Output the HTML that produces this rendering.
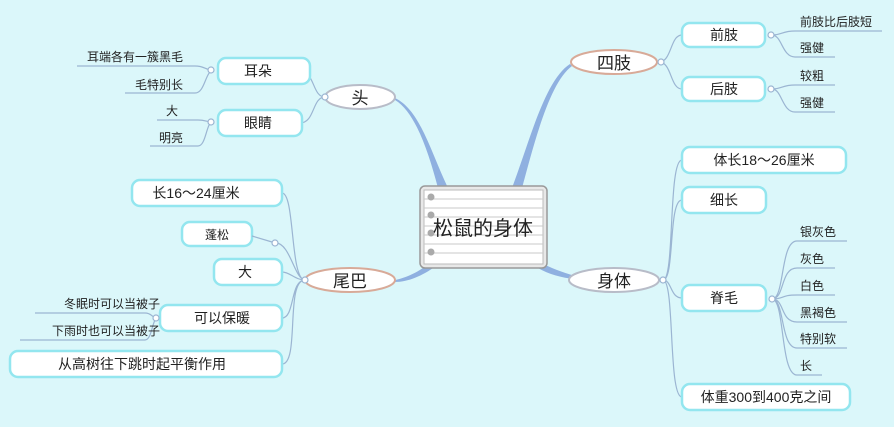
<!DOCTYPE html>
<html><head><meta charset="utf-8"><style>
html,body{margin:0;padding:0;background:#dbf7fa;}
svg{display:block;font-family:"Liberation Sans","Noto Sans CJK SC",sans-serif;}
.c{fill:#fff;stroke:#93e6ef;stroke-width:2.5;}
.l{fill:none;stroke:#9bb5d2;stroke-width:1.2;}
.t{font-size:14px;fill:#222;}
.m{font-size:17px;fill:#222;}
.s{font-size:12px;fill:#222;}
.j{fill:#fff;stroke:#9bb5d2;stroke-width:1.2;}
</style></head><body>
<svg width="894" height="427" viewBox="0 0 894 427">
<rect width="894" height="427" fill="#dbf7fa"/>
<g fill="#8fb0e0">
<path d="M395,98 C420,110 430,150 448,188 L438,188 C428,150 415,112 395,100Z"/>
<path d="M570,64 C545,80 530,140 512,188 L522,188 C535,140 550,82 572,66Z"/>
<path d="M395,280 C405,278 420,272 430,262 L436,266 C422,276 408,282 395,282Z"/>
<path d="M575,276 C562,272 550,268 540,262 L538,268 C548,274 562,278 575,279Z"/>
</g>
<rect x="420" y="186" width="127" height="82" rx="5" fill="#e8e8e8" stroke="#999" stroke-width="1.5"/>
<rect x="424" y="190" width="119" height="74" fill="#fff" stroke="#bbb"/>
<g stroke="#c9c9c9" stroke-width="1"><line x1="424" y1="199" x2="543" y2="199"/><line x1="424" y1="208" x2="543" y2="208"/><line x1="424" y1="217" x2="543" y2="217"/><line x1="424" y1="226" x2="543" y2="226"/><line x1="424" y1="235" x2="543" y2="235"/><line x1="424" y1="244" x2="543" y2="244"/><line x1="424" y1="253" x2="543" y2="253"/></g>
<g fill="#aaa"><circle cx="431" cy="197" r="3.5"/><circle cx="431" cy="215" r="3.5"/><circle cx="431" cy="233" r="3.5"/><circle cx="431" cy="252" r="3.5"/></g>
<text x="483" y="235" text-anchor="middle" font-size="20" fill="#222">松鼠的身体</text>
<ellipse cx="360" cy="97" rx="35" ry="12" fill="#fff" stroke="#b8bcc8" stroke-width="2"/>
<text x="360" y="104" text-anchor="middle" class="m">头</text>
<ellipse cx="614" cy="62" rx="43" ry="12" fill="#fff" stroke="#d8aa98" stroke-width="2"/>
<text x="614" y="69" text-anchor="middle" class="m">四肢</text>
<ellipse cx="350" cy="280" rx="45" ry="12" fill="#fff" stroke="#d8aa98" stroke-width="2"/>
<text x="350" y="287" text-anchor="middle" class="m">尾巴</text>
<ellipse cx="614" cy="280" rx="45" ry="12" fill="#fff" stroke="#b8bcc8" stroke-width="2"/>
<text x="614" y="287" text-anchor="middle" class="m">身体</text>
<path class="l" d="M325,97 C312,97 315,71 300,71 M325,97 C312,97 315,123 300,123"/>
<circle class="j" cx="325" cy="97" r="3"/>
<rect class="c" x="218" y="58" width="92" height="26" rx="8"/><text x="258" y="76" text-anchor="middle" class="t">耳朵</text>
<rect class="c" x="218" y="110" width="84" height="26" rx="8"/><text x="258" y="128" text-anchor="middle" class="t">眼睛</text>
<path class="l" d="M77,66 L195,66 C205,66 205,70 213,70 M125,93 L195,93 C205,93 205,72 213,70"/><circle class="j" cx="211" cy="70" r="3"/>
<path class="l" d="M157,120 L198,120 C206,120 206,122 212,122 M150,146 L198,146 C206,146 206,124 212,122"/><circle class="j" cx="211" cy="122" r="3"/>
<text x="183" y="61" text-anchor="end" class="s">耳端各有一簇黑毛</text>
<text x="183" y="89" text-anchor="end" class="s">毛特别长</text>
<text x="178" y="115" text-anchor="end" class="s">大</text>
<text x="183" y="142" text-anchor="end" class="s">明亮</text>
<path class="l" d="M305,280 C290,280 295,193 282,193 M305,280 C295,280 290,243 276,243 M305,280 C295,280 290,272 282,272 M305,280 C290,280 295,318 282,318 M305,280 C285,280 300,364 282,364"/>
<circle class="j" cx="305" cy="280" r="3"/>
<rect class="c" x="132" y="180" width="150" height="26" rx="8"/><text x="196" y="198" text-anchor="middle" class="t">长16～24厘米</text>
<rect class="c" x="182" y="222" width="70" height="24" rx="8"/><text x="217" y="239" text-anchor="middle" class="s" font-size="13">蓬松</text>
<line class="l" x1="252" y1="236" x2="272" y2="242"/><circle class="j" cx="275" cy="243" r="3"/>
<rect class="c" x="214" y="259" width="68" height="26" rx="8"/><text x="245" y="277" text-anchor="middle" class="t">大</text>
<rect class="c" x="160" y="305" width="122" height="26" rx="8"/><text x="222" y="323" text-anchor="middle" class="t">可以保暖</text>
<rect class="c" x="10" y="351" width="272" height="26" rx="8"/><text x="142" y="369" text-anchor="middle" class="t">从高树往下跳时起平衡作用</text>
<path class="l" d="M35,313 L145,313 C152,313 152,318 157,318 M20,340 L145,340 C152,340 152,320 157,318"/><circle class="j" cx="156" cy="318" r="3"/>
<text x="160" y="308" text-anchor="end" class="s">冬眠时可以当被子</text>
<text x="160" y="335" text-anchor="end" class="s">下雨时也可以当被子</text>
<path class="l" d="M659,62 C672,62 670,35 682,35 M659,62 C672,62 670,89 682,89"/><circle class="j" cx="661" cy="62" r="3"/>
<rect class="c" x="682" y="23" width="83" height="24" rx="8"/><text x="724" y="40" text-anchor="middle" class="t">前肢</text>
<rect class="c" x="682" y="77" width="83" height="24" rx="8"/><text x="724" y="94" text-anchor="middle" class="t">后肢</text>
<path class="l" d="M772,35 C782,35 782,31 795,31 L882,31 M772,35 C782,35 782,57 795,57 L835,57"/><circle class="j" cx="771" cy="35" r="3"/>
<path class="l" d="M772,89 C782,89 782,85 795,85 L835,85 M772,89 C782,89 782,112 795,112 L835,112"/><circle class="j" cx="771" cy="89" r="3"/>
<text x="800" y="26" class="s">前肢比后肢短</text>
<text x="800" y="52" class="s">强健</text>
<text x="800" y="80" class="s">较粗</text>
<text x="800" y="107" class="s">强健</text>
<path class="l" d="M663,280 C675,280 668,160 682,160 M663,280 C675,280 668,200 682,200 M663,280 C672,280 670,298 682,298 M663,280 C675,280 668,397 682,397"/>
<circle class="j" cx="663" cy="280" r="3"/>
<rect class="c" x="682" y="147" width="164" height="26" rx="8"/><text x="764" y="165" text-anchor="middle" class="t">体长18～26厘米</text>
<rect class="c" x="682" y="187" width="84" height="26" rx="8"/><text x="724" y="205" text-anchor="middle" class="t">细长</text>
<rect class="c" x="682" y="285" width="84" height="26" rx="8"/><text x="724" y="303" text-anchor="middle" class="t">脊毛</text>
<rect class="c" x="682" y="384" width="168" height="26" rx="8"/><text x="766" y="402" text-anchor="middle" class="t">体重300到400克之间</text>
<path class="l" d="M772,299 C785,299 780,241 797,241 L847,241 M772,299 C785,299 780,268 797,268 L835,268 M772,299 C785,299 780,295 797,295 L835,295 M772,299 C785,299 780,322 797,322 L847,322 M772,299 C785,299 780,348 797,348 L847,348 M772,299 C785,299 780,375 797,375 L822,375"/>
<circle class="j" cx="772" cy="299" r="3"/>
<text x="800" y="236" class="s">银灰色</text>
<text x="800" y="263" class="s">灰色</text>
<text x="800" y="290" class="s">白色</text>
<text x="800" y="317" class="s">黑褐色</text>
<text x="800" y="343" class="s">特别软</text>
<text x="800" y="370" class="s">长</text>
</svg>
</body></html>
